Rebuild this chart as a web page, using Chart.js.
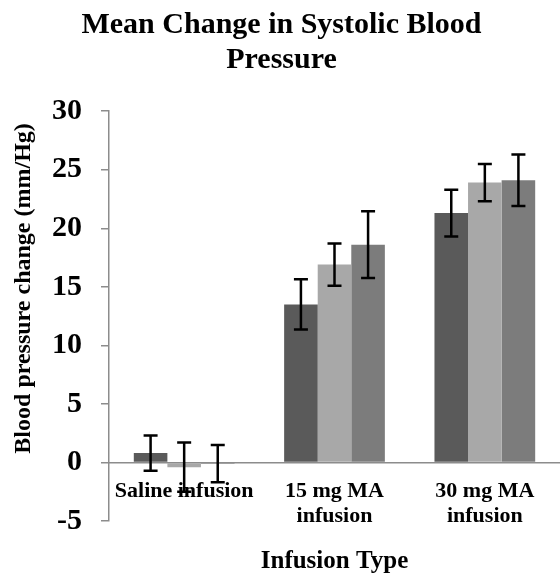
<!DOCTYPE html>
<html>
<head>
<meta charset="utf-8">
<script src="https://cdn.jsdelivr.net/npm/chart.js@4/dist/chart.umd.min.js"></script>
<style>
  html, body { margin: 0; padding: 0; background: #fff; }
  #wrap { width: 560px; height: 573px; }
</style>
</head>
<body>
<div id="wrap"><canvas id="grafico"></canvas></div>
<script>
const categorias = [['Saline infusion'], ['15 mg MA', 'infusion'], ['30 mg MA', 'infusion']];
const serie1 = [0.8, 13.5, 21.3];
const serie2 = [-0.4, 16.9, 23.9];
const serie3 = [-0.1, 18.6, 24.1];
const error1 = [1.5, 2.15, 2.0];
const error2 = [2.1, 1.8, 1.6];
const error3 = [1.6, 2.85, 2.2];
const yTicks = [-5, 0, 5, 10, 15, 20, 25, 30];

const serif = "'Liberation Serif', 'Times New Roman', serif";

// barras de error dibujadas encima de cada barra
const barrasError = {
  id: 'barrasError',
  afterDatasetsDraw(chart) {
    const ctx = chart.ctx;
    const y = chart.scales.y;
    ctx.save();
    ctx.strokeStyle = '#000';
    ctx.lineWidth = 2.5;
    chart.data.datasets.forEach((ds, i) => {
      const meta = chart.getDatasetMeta(i);
      meta.data.forEach((bar, j) => {
        const v = ds.data[j];
        const e = ds.errores[j];
        const top = y.getPixelForValue(v + e);
        const bot = y.getPixelForValue(v - e);
        ctx.beginPath();
        ctx.moveTo(bar.x, top);
        ctx.lineTo(bar.x, bot);
        ctx.moveTo(bar.x - 7, top);
        ctx.lineTo(bar.x + 7, top);
        ctx.moveTo(bar.x - 7, bot);
        ctx.lineTo(bar.x + 7, bot);
        ctx.stroke();
      });
    });
    ctx.restore();
  }
};

new Chart(document.getElementById('grafico').getContext('2d'), {
  type: 'bar',
  data: {
    labels: categorias,
    datasets: [
      { label: 'Serie 1', data: serie1, errores: error1, backgroundColor: '#5a5a5a' },
      { label: 'Serie 2', data: serie2, errores: error2, backgroundColor: '#a8a8a8' },
      { label: 'Serie 3', data: serie3, errores: error3, backgroundColor: '#7c7c7c' },
    ],
  },
  options: {
    responsive: true,
    maintainAspectRatio: false,
    animation: false,
    layout: { padding: { left: 3, right: 0, top: 0, bottom: 0 } },
    datasets: { bar: { categoryPercentage: 0.67, barPercentage: 1.0 } },
    plugins: {
      legend: { display: false },
      tooltip: { enabled: false },
      title: {
        display: true,
        text: ['Mean Change in Systolic Blood', 'Pressure'],
        color: '#000',
        font: { family: serif, size: 30, weight: 'bold', lineHeight: 1.17 },
        padding: { top: 8, bottom: 33 },
      },
      subtitle: {
        display: true,
        position: 'bottom',
        fullSize: false,
        text: 'Infusion Type',
        color: '#000',
        font: { family: serif, size: 25, weight: 'bold', lineHeight: 0.88 },
        padding: { top: 30, bottom: 0 },
      },
    },
    scales: {
      x: {
        position: { y: 0 },
        grid: { display: false, drawTicks: false },
        border: { display: true, color: '#8c8c8c', width: 1.5 },
        ticks: {
          color: '#000',
          padding: 16,
          maxRotation: 0,
          autoSkip: false,
          font: { family: serif, size: 22, weight: 'bold', lineHeight: 1.15 },
        },
      },
      y: {
        min: -5,
        max: 30,
        afterBuildTicks: (scale) => { scale.ticks = yTicks.map(v => ({ value: v })); },
        afterFit: (scale) => { scale.width = 106; },
        grid: { drawOnChartArea: false, drawTicks: true, tickLength: 8, color: '#8c8c8c', lineWidth: 1.5 },
        border: { display: true, color: '#8c8c8c', width: 1.5 },
        ticks: {
          color: '#000',
          padding: 19,
          font: { family: serif, size: 30, weight: 'bold' },
        },
        title: {
          display: true,
          align: 'end',
          text: 'Blood pressure change (mm/Hg)  ',
          color: '#000',
          font: { family: serif, size: 24, weight: 'bold', lineHeight: 1.2 },
          padding: { top: 6, bottom: 12 },
        },
      },
    },
  },
  plugins: [barrasError],
});
</script>
</body>
</html>
